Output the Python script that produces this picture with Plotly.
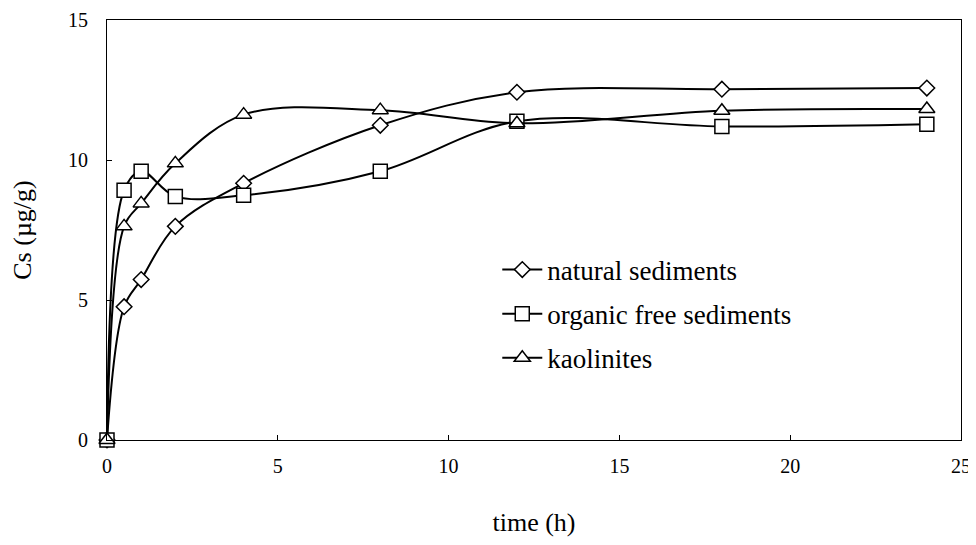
import plotly.graph_objects as go

time_h = [0, 0.5, 1, 2, 4, 8, 12, 18, 24]
natural = [0, 4.76, 5.73, 7.63, 9.17, 11.24, 12.42, 12.53, 12.57]
organic_free = [0, 8.92, 9.6, 8.7, 8.74, 9.6, 11.38, 11.2, 11.28]
kaolinites = [0, 7.63, 8.45, 9.88, 11.62, 11.78, 11.31, 11.76, 11.82]

series = [
    ("natural sediments", natural, "diamond", 12),
    ("organic free sediments", organic_free, "square", 14),
    ("kaolinites", kaolinites, "triangle-up", 14),
]

fig = go.Figure()
for i, (name, vals, sym, size) in enumerate(series):
    fig.add_trace(go.Scatter(
        x=time_h, y=vals, name=name, mode="lines+markers",
        legendgroup=f"g{i}", cliponaxis=False,
        line=dict(color="black", width=2, shape="spline", smoothing=1.0),
        marker=dict(symbol=sym, size=size, color="white",
                    line=dict(color="black", width=1.5)),
    ))

font_family = "Liberation Serif"
fig.update_layout(
    width=968, height=529,
    margin=dict(l=99, r=15, t=12, b=97, autoexpand=False),
    paper_bgcolor="white", plot_bgcolor="white",
    font=dict(family=font_family, color="black", size=20),
    showlegend=True,
    legend=dict(x=0.457, y=0.30, xanchor="left", yanchor="middle",
                bgcolor="rgba(0,0,0,0)", font=dict(size=27, family=font_family),
                itemwidth=40, tracegroupgap=6),
    xaxis=dict(range=[0, 25], dtick=5, tick0=0, showgrid=False, zeroline=False,
               showline=True, linecolor="black", linewidth=1, mirror=True,
               ticks="inside", ticklen=5, tickcolor="black", automargin=False,
               tickfont=dict(size=20, family=font_family), ticklabelstandoff=8,
               title=dict(text="time (h)", font=dict(size=26, family=font_family), standoff=36)),
    yaxis=dict(range=[0, 15], dtick=5, tick0=0, showgrid=False, zeroline=False,
               showline=True, linecolor="black", linewidth=1, mirror=True,
               ticks="inside", ticklen=5, tickcolor="black", automargin=False,
               tickfont=dict(size=20, family=font_family), ticklabelstandoff=14,
               title=dict(text="Cs (µg/g)", font=dict(size=26, family=font_family), standoff=28)),
)

fig.write_html("out.html")
